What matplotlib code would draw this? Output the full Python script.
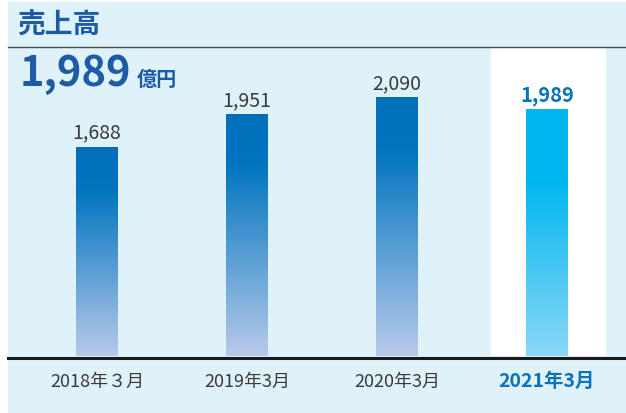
import numpy as np
import matplotlib.pyplot as plt
from matplotlib.patches import Rectangle
from matplotlib.lines import Line2D
from matplotlib.colors import LinearSegmentedColormap

plt.rcParams['font.family'] = ['Noto Sans CJK JP', 'DejaVu Sans']

# data
periods = ["2018年３月", "2019年3月", "2020年3月", "2021年3月"]
sales = [1688, 1951, 2090, 1989]
value_labels = ["1,688", "1,951", "2,090", "1,989"]
headline = "1,989"
unit = "億円"
title = "売上高"

W, H = 626, 414
BG = "#dff2fa"
DARK_BLUE = "#1d5ba6"
HIGHLIGHT_BLUE = "#0a72bd"


def fx(px):
    return px / W


def fy(py):
    return 1 - py / H


fig = plt.figure(figsize=(W / 100, H / 100), dpi=100)
fig.patch.set_facecolor("white")

# light blue panel
fig.patches.append(Rectangle((fx(8), 0), 1 - fx(8), fy(3), transform=fig.transFigure,
                             facecolor=BG, edgecolor="none", zorder=-5))

# chart area: categories spaced 150 px, baseline at y=357 px
ax_left, ax_right, ax_top, ax_bottom = 22, 622, 48, 357
ax = fig.add_axes([fx(ax_left), fy(ax_bottom), fx(ax_right - ax_left), fy(ax_top) - fy(ax_bottom)])
ax.set_facecolor("none")
ax.set_zorder(1)
for s in ax.spines.values():
    s.set_visible(False)
ax.set_xticks([])
ax.set_yticks([])

# highlight column for latest year
last = len(periods) - 1
ax.axvspan(last - 0.373, last + 0.387, color="white", zorder=0)

# gradients: solid at the top, fading towards the baseline
cmap_old = LinearSegmentedColormap.from_list(
    "old", [(0, "#b7caea"), (0.8, "#0074bf"), (1, "#0070bb")])
cmap_new = LinearSegmentedColormap.from_list(
    "new", [(0, "#8ad8f6"), (0.72, "#00b6ef"), (1, "#00b6ef")])
grad = np.linspace(0, 1, 256).reshape(-1, 1)

bar_w = 0.28
bars = ax.bar(range(len(periods)), sales, width=bar_w, color="none", zorder=2)
for i, (b, lab) in enumerate(zip(bars, value_labels)):
    x0, w, h = b.get_x(), b.get_width(), b.get_height()
    cm = cmap_new if i == last else cmap_old
    ax.imshow(grad, cmap=cm, origin="lower", aspect="auto",
              extent=(x0, x0 + w, 0, h), zorder=1)
    if i == last:
        ax.text(x0 + w / 2, h + 40, lab, ha="center", va="bottom", fontsize=14.5,
                fontweight="bold", color=HIGHLIGHT_BLUE)
    else:
        ax.text(x0 + w / 2, h + 35, lab, ha="center", va="bottom", fontsize=14,
                color="#3a3a3a")
ax.set_xlim(-0.5, len(periods) - 0.5)
ax.set_ylim(0, (ax_bottom - ax_top) / 0.1238)

# x labels
for i, p in enumerate(periods):
    if i == last:
        ax.text(i, -200, p, ha="center", va="center", fontsize=14, fontweight="bold",
                color=HIGHLIGHT_BLUE, clip_on=False)
    else:
        ax.text(i, -200, p, ha="center", va="center", fontsize=13, color="#3a3a3a",
                clip_on=False)

# separator lines
fig.lines.append(Line2D([fx(8), 1], [fy(48), fy(48)], transform=fig.transFigure,
                        color="#4a4a4a", lw=1.0, zorder=5))
fig.lines.append(Line2D([fx(8), 1], [fy(358.5), fy(358.5)], transform=fig.transFigure,
                        color="#1a1a1a", lw=2.2, zorder=5))

# title and headline
fig.text(fx(17), fy(26), title, ha="left", va="center", fontsize=20, fontweight="bold",
         color=DARK_BLUE)
big = fig.text(fx(20), fy(86), headline, ha="left", va="baseline", fontsize=30,
               fontweight="bold", color=DARK_BLUE)
fig.canvas.draw()
bb = big.get_window_extent()
fig.text((bb.x1 + 5) / W, fy(86), unit, ha="left", va="baseline", fontsize=14.5,
         fontweight="bold", color=DARK_BLUE)

fig.savefig("out.png", dpi=100)
